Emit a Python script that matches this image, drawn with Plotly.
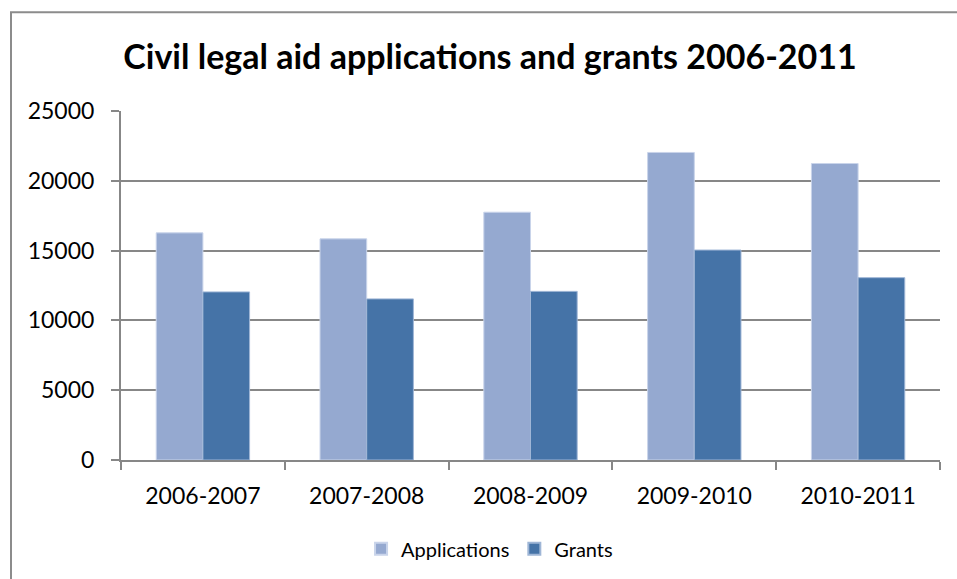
import plotly.graph_objects as go

# Civil legal aid figures by financial year
years = ["2006-2007", "2007-2008", "2008-2009", "2009-2010", "2010-2011"]
applications = [16270, 15840, 17750, 22030, 21240]
grants = [12040, 11540, 12080, 15040, 13060]

y_ticks = [0, 5000, 10000, 15000, 20000, 25000]

FONT = "Lato"
GRID = "#878787"

fig = go.Figure()
fig.add_trace(go.Bar(
    name="Applications", x=years, y=applications,
    marker=dict(color="#95A9D0", line=dict(color="#C9D4EA", width=1)),
))
fig.add_trace(go.Bar(
    name="Grants", x=years, y=grants,
    marker=dict(color="#4573A7", line=dict(color="#9FB6D6", width=1)),
))

W, H = 957, 579
L, R, T, B = 121, 17, 111, 118

fig.update_layout(
    width=W, height=H,
    margin=dict(l=L, r=R, t=T, b=B, pad=0),
    paper_bgcolor="white", plot_bgcolor="white",
    barmode="group", bargap=0.43, bargroupgap=0,
    font=dict(family=FONT, color="#000000"),
    title=dict(
        text="<b>Civil legal aid applications and grants 2006-2011</b>",
        font=dict(family=FONT, size=34, color="#000000"),
        x=490 / W, xanchor="center", xref="container",
        y=1 - 57 / H, yanchor="middle", yref="container",
    ),
    showlegend=True,
    legend=dict(
        orientation="h", x=0.45, xanchor="center",
        y=-0.251, yanchor="middle",
        font=dict(family=FONT, size=20, color="#000000"),
        itemsizing="constant", traceorder="normal",
        bgcolor="rgba(0,0,0,0)",
    ),
    xaxis=dict(
        type="category",
        showline=True, linecolor=GRID, linewidth=2,
        ticks="outside", tickson="boundaries", ticklen=8,
        tickcolor=GRID, tickwidth=2,
        showgrid=False,
        tickfont=dict(family=FONT, size=23, color="#000000"),
        ticklabelstandoff=14,
    ),
    yaxis=dict(
        range=[0, 25000], tickvals=y_ticks,
        ticktext=[str(v) for v in y_ticks],
        showline=True, linecolor=GRID, linewidth=2,
        ticks="outside", ticklen=8, tickcolor=GRID, tickwidth=2,
        showgrid=True, gridcolor=GRID, gridwidth=2,
        zeroline=False,
        tickfont=dict(family=FONT, size=23, color="#000000"),
        ticklabelstandoff=12,
    ),
)

# Chart frame around the whole figure area
fig.add_shape(
    type="rect", xref="paper", yref="paper",
    x0=(11 - L) / (W - L - R), x1=(970 - L) / (W - L - R),
    y0=-(600 - (H - B)) / (H - T - B), y1=((H - B) - 12) / (H - T - B),
    line=dict(color="#8C8C8C", width=2), fillcolor="rgba(0,0,0,0)",
    layer="below",
)

fig.write_html("out.html")
